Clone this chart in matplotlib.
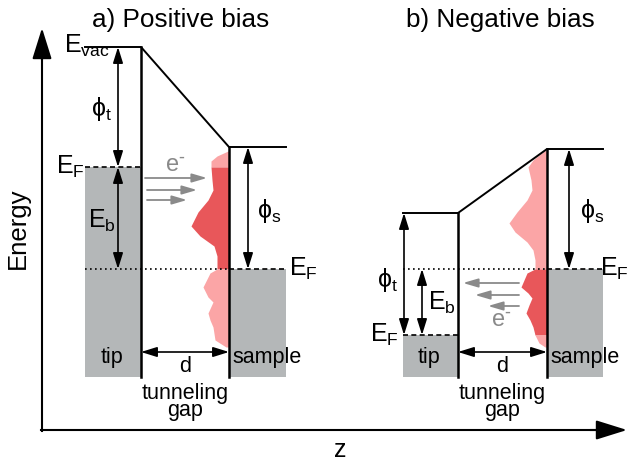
import matplotlib
matplotlib.use('Agg')
import matplotlib.pyplot as plt

plt.rcParams['font.family'] = ['Liberation Sans', 'DejaVu Sans']
plt.rcParams['mathtext.fontset'] = 'custom'
plt.rcParams['mathtext.rm'] = 'Liberation Sans Narrow'
plt.rcParams['mathtext.it'] = 'Liberation Sans Narrow'

# everything is in picture units (x right, y down)
bottom = 377

# a) positive bias
a_left, a_tip, a_sample, a_right = 85, 141, 229, 286
a_vac_tip, a_vac_sample = 47, 147
a_ef_tip, a_ef_sample = 167, 269
a_dos_y = [151, 156, 161, 167, 180, 190, 200, 212, 226, 236, 246, 256, 269,
           273, 287, 297, 302, 313, 320, 327, 340, 347]
a_dos_w = [1, 12, 18, 18, 17, 16, 21, 31, 38, 29, 15, 12, 12,
           19, 26, 21, 16, 21, 19, 16, 14, 3]
a_e_arrows = [(145, 207, 178), (147, 197, 190), (147, 187, 200)]

# b) negative bias
b_left, b_tip, b_sample, b_right = 403, 458, 547, 603
b_vac_tip, b_vac_sample = 213, 149
b_ef_tip, b_ef_sample = 335, 269
b_dos_y = [150, 155, 160, 167, 180, 190, 200, 212, 223, 232, 242, 250, 260, 269,
           273, 280, 287, 293, 298, 305, 313, 320, 327, 335, 343, 347]
b_dos_w = [1, 8, 14, 19, 16, 15, 20, 30, 38, 32, 20, 14, 12, 12,
           20, 23, 26, 19, 15, 18, 21, 17, 14, 12, 8, 2]
b_e_arrows = [(519, 463, 283), (519, 475, 295), (519, 488, 306)]

gray = '#b4b7b8'
dark = '#e8575a'
light = '#fba5a6'
arrow_gray = '#8a8a8a'

fig = plt.figure(figsize=(6.29, 4.62), dpi=100)
ax = fig.add_axes([0, 0, 1, 1])
ax.set_xlim(0, 629)
ax.set_ylim(462, 0)
ax.axis('off')


def arrow(x0, y0, x1, y1, style='<|-|>', color='black', lw=1.2, hl=0.8, hw=0.25):
    ax.annotate('', xy=(x1, y1), xytext=(x0, y0),
                arrowprops=dict(arrowstyle=f'{style},head_length={hl},head_width={hw}',
                                color=color, lw=lw, shrinkA=0, shrinkB=0,
                                mutation_scale=12))


def dos(wall, ys, ws, lo, hi):
    xs = [wall - w for w in ws]
    m1 = [y <= lo for y in ys]
    m2 = [lo <= y <= hi for y in ys]
    m3 = [y >= hi for y in ys]
    ax.fill_betweenx(ys, xs, wall, where=m1, color=light, lw=0)
    ax.fill_betweenx(ys, xs, wall, where=m2, color=dark, lw=0)
    ax.fill_betweenx(ys, xs, wall, where=m3, color=light, lw=0)


def panel(left, tip, sample, right, vac_tip, vac_sample, ef_tip, ef_sample,
          dys, dws, e_arrows, label, cx):
    ax.fill_between([left, tip], ef_tip, bottom, color=gray, lw=0)
    ax.fill_between([sample, right], ef_sample, bottom, color=gray, lw=0)
    dos(sample, dys, dws, min(ef_tip, ef_sample), max(ef_tip, ef_sample))
    ax.plot([left, tip, sample, right], [vac_tip, vac_tip, vac_sample, vac_sample],
            color='black', lw=1.4)
    ax.plot([tip, tip], [vac_tip, bottom], color='black', lw=1.8)
    ax.plot([sample, sample], [vac_sample, bottom], color='black', lw=1.8)
    ax.plot([left, tip], [ef_tip, ef_tip], color='black', lw=1.2, ls=(0, (3, 2)))
    ax.plot([left, sample], [ef_sample, ef_sample], color='black', lw=1.2, ls=(0, (1, 2)))
    ax.plot([sample, right], [ef_sample, ef_sample], color='black', lw=1.2, ls=(0, (3, 2)))
    for x0, x1, y in e_arrows:
        arrow(x0, y, x1, y, style='-|>', color=arrow_gray, lw=1.3, hl=0.75, hw=0.22)
    arrow(tip, 352, sample, 352)
    ax.text(cx, 27, label, fontsize=18.8, ha='center', va='baseline')
    ax.text(tip - 29, 363, 'tip', fontsize=15.5, ha='center', va='baseline')
    ax.text(sample + 38, 363, 'sample', fontsize=15.5, ha='center', va='baseline')
    ax.text((tip + sample) / 2, 372, 'd', fontsize=15.5, ha='center', va='baseline')
    ax.text((tip + sample) / 2, 402, 'tunneling\ngap', fontsize=15.5, ha='center',
            va='center', linespacing=0.8)


panel(a_left, a_tip, a_sample, a_right, a_vac_tip, a_vac_sample, a_ef_tip, a_ef_sample,
      a_dos_y, a_dos_w, a_e_arrows, 'a) Positive bias', 181)
panel(b_left, b_tip, b_sample, b_right, b_vac_tip, b_vac_sample, b_ef_tip, b_ef_sample,
      b_dos_y, b_dos_w, b_e_arrows, 'b) Negative bias', 500)

# level arrows, panel a
arrow(118, a_vac_tip, 118, a_ef_tip)
arrow(118, a_ef_tip, 118, a_ef_sample)
arrow(248, a_vac_sample, 248, a_ef_sample)
# level arrows, panel b
arrow(404, b_vac_tip, 404, b_ef_tip)
arrow(422, b_ef_sample, 422, b_ef_tip)
arrow(569, b_vac_sample, 569, b_ef_sample)

fs = 18
ax.text(64, 53, r'$\mathregular{E_{vac}}$', fontsize=fs, va='baseline')
ax.text(56, 174, r'$\mathregular{E_F}$', fontsize=fs, va='baseline')
ax.text(91, 116, r'$\mathregular{\phi_t}$', fontsize=fs, va='baseline')
ax.text(88, 228, r'$\mathregular{E_b}$', fontsize=fs, va='baseline')
ax.text(257, 218, r'$\mathregular{\phi_s}$', fontsize=fs, va='baseline')
ax.text(289, 276, r'$\mathregular{E_F}$', fontsize=fs, va='baseline')
ax.text(175, 172, r'$\mathregular{e^{\text{-}}}$', fontsize=17, color=arrow_gray,
        ha='center', va='baseline')

ax.text(377, 287, r'$\mathregular{\phi_t}$', fontsize=fs, va='baseline')
ax.text(428, 310, r'$\mathregular{E_b}$', fontsize=fs, va='baseline')
ax.text(370, 342, r'$\mathregular{E_F}$', fontsize=fs, va='baseline')
ax.text(501, 327, r'$\mathregular{e^{\text{-}}}$', fontsize=17, color=arrow_gray,
        ha='center', va='baseline')
ax.text(580, 218, r'$\mathregular{\phi_s}$', fontsize=fs, va='baseline')
ax.text(600, 276, r'$\mathregular{E_F}$', fontsize=fs, va='baseline')

# axes
ax.plot([42, 42], [431, 40], color='black', lw=1.5)
ax.plot([41, 612], [430, 430], color='black', lw=1.5)
arrow(42, 60, 42, 28, style='-|>', lw=1.5, hl=1.6, hw=0.5)
arrow(590, 430, 627, 430, style='-|>', lw=1.5, hl=1.6, hw=0.5)
ax.text(18, 228, 'Energy', fontsize=18.5, rotation=90, ha='center', va='center')
ax.text(340, 457, 'z', fontsize=18, ha='center', va='baseline')

fig.savefig('out.png', dpi=100)
